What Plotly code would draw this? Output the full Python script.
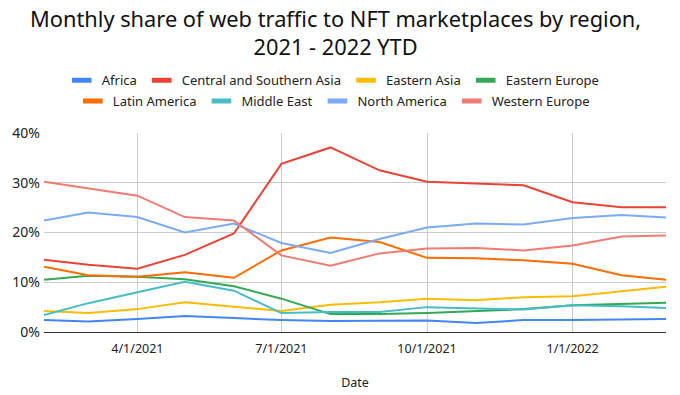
import plotly.graph_objects as go

dates = ["2021-02-01", "2021-03-01", "2021-04-01", "2021-05-01", "2021-06-01", "2021-07-01",
         "2021-08-01", "2021-09-01", "2021-10-01", "2021-11-01", "2021-12-01", "2022-01-01",
         "2022-02-01", "2022-03-01"]

africa = [2.4, 2.1, 2.6, 3.2, 2.8, 2.4, 2.2, 2.2, 2.3, 1.8, 2.4, 2.4, 2.5, 2.6]
central_southern_asia = [14.5, 13.5, 12.7, 15.5, 19.8, 33.8, 37.1, 32.5, 30.2, 29.8, 29.5, 26.1, 25.1, 25.1]
eastern_asia = [4.2, 3.8, 4.6, 6.0, 5.1, 4.2, 5.5, 6.0, 6.7, 6.4, 7.0, 7.2, 8.2, 9.1]
eastern_europe = [10.5, 11.3, 11.1, 10.6, 9.2, 6.7, 3.6, 3.6, 3.8, 4.2, 4.6, 5.4, 5.6, 5.9]
latin_america = [13.1, 11.4, 11.1, 12.0, 10.9, 16.4, 19.0, 18.1, 14.9, 14.8, 14.4, 13.7, 11.4, 10.5]
middle_east = [3.4, 5.8, 8.0, 10.1, 8.3, 3.8, 4.0, 4.0, 5.0, 4.8, 4.5, 5.4, 5.2, 4.8]
north_america = [22.4, 24.0, 23.1, 20.0, 21.8, 17.9, 15.9, 18.7, 21.0, 21.8, 21.6, 22.9, 23.5, 23.0]
western_europe = [30.2, 28.9, 27.4, 23.1, 22.4, 15.4, 13.3, 15.8, 16.8, 16.9, 16.4, 17.4, 19.2, 19.4]

series_names = ["Africa", "Central and Southern Asia", "Eastern Asia", "Eastern Europe",
                "Latin America", "Middle East", "North America", "Western Europe"]
series_values = [africa, central_southern_asia, eastern_asia, eastern_europe,
                 latin_america, middle_east, north_america, western_europe]
colors = ["#4285F4", "#EA4335", "#FBBC04", "#34A853", "#FF6D01", "#46BDC6", "#7BAAF7", "#F07B72"]

x_tick_vals = ["2021-04-01", "2021-07-01", "2021-10-01", "2022-01-01"]
x_tick_text = ["4/1/2021", "7/1/2021", "10/1/2021", "1/1/2022"]
y_tick_vals = [0, 10, 20, 30, 40]
y_tick_text = ["0%", "10%", "20%", "30%", "40%"]

title_text = "Monthly share of web traffic to NFT marketplaces by region,<br>2021 - 2022 YTD"

FONT = "Noto Sans"

fig = go.Figure()
for name, vals, col in zip(series_names, series_values, colors):
    fig.add_trace(go.Scatter(x=dates, y=vals, mode="lines", name=name,
                             line=dict(color=col, width=2), showlegend=False))
for i, (name, col) in enumerate(zip(series_names, colors)):
    fig.add_trace(go.Scatter(x=[None], y=[None], mode="markers", name=name,
                             marker=dict(symbol="line-ew-open", size=14, color=col,
                                         line=dict(color=col, width=5)),
                             legend="legend" if i < 4 else "legend2"))

legend_common = dict(orientation="h", xanchor="center", yanchor="middle",
                     font=dict(family=FONT, size=13, color="#222"),
                     bgcolor="rgba(0,0,0,0)", itemwidth=30, tracegroupgap=0)

fig.add_annotation(text=title_text, xref="paper", yref="paper", x=0.469, y=1.66,
                   xanchor="center", yanchor="top", showarrow=False, align="center",
                   font=dict(family=FONT, size=21.8, color="#111"))

fig.update_layout(
    width=680, height=395,
    margin=dict(l=44, r=14, t=133, b=63, autoexpand=False),
    paper_bgcolor="white", plot_bgcolor="white",
    font=dict(family=FONT, color="#222"),
    legend=dict(x=0.465, y=1.265, **legend_common),
    legend2=dict(x=0.466, y=1.16, **legend_common),
    xaxis=dict(type="date", range=["2021-02-01", "2022-03-01"],
               tickvals=x_tick_vals, ticktext=x_tick_text, automargin=False,
               showgrid=True, gridcolor="#cccccc", gridwidth=1,
               showline=False, zeroline=False, ticks="", ticklabelstandoff=7,
               tickfont=dict(family=FONT, size=12.5, color="#222"),
               title=dict(text="Date", font=dict(family=FONT, size=12.5, color="#222"), standoff=22)),
    yaxis=dict(range=[0, 40], tickvals=y_tick_vals, ticktext=y_tick_text, automargin=False,
               showgrid=True, gridcolor="#cccccc", gridwidth=1,
               zeroline=True, zerolinecolor="#333333", zerolinewidth=1,
               showline=False, ticks="", ticklabelstandoff=3,
               tickfont=dict(family=FONT, size=14, color="#222")),
)

fig.write_html("out.html", post_script="document.body.style.margin='0';",
               config={"displayModeBar": False})
